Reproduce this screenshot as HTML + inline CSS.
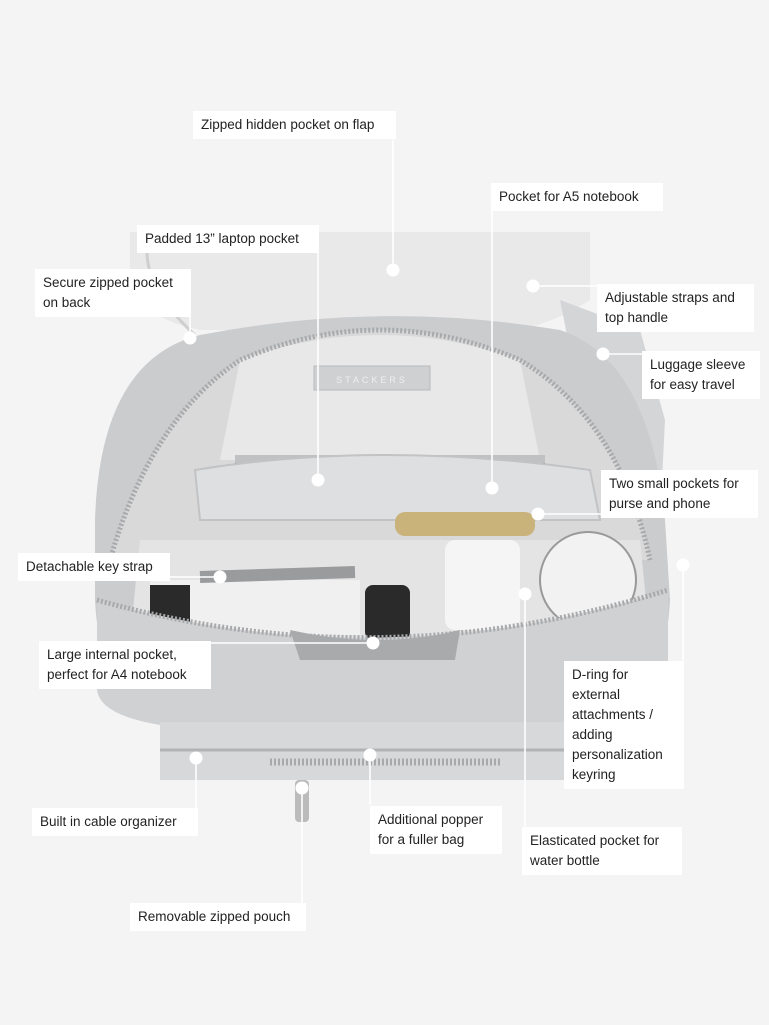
<!DOCTYPE html>
<html><head><meta charset="utf-8"><style>
body{margin:0;width:769px;height:1025px;background:#f4f4f4;position:relative;overflow:hidden;font-family:"Liberation Sans",sans-serif}
svg{position:absolute;left:0;top:0}
.l{position:absolute;background:#fff;color:#222;font-size:13.5px;line-height:20px;padding:4px 8px;box-sizing:border-box}
</style></head><body>
<svg width="769" height="1025">
<!-- flap / back -->
<path d="M130 232 L590 232 L590 300 Q560 320 520 330 L200 330 Q150 320 130 290 Z" fill="#e9e9ea"/>
<path d="M150 232 Q135 280 195 335" stroke="#cfcfd0" stroke-width="3" fill="none"/>
<!-- right luggage sleeve -->
<path d="M560 300 L640 330 L665 420 L660 520 L600 500 Z" fill="#d4d5d7"/>
<!-- main body -->
<path d="M95 520 Q100 360 200 335 Q380 300 560 330 Q650 360 665 520 L670 600 Q665 700 600 720 L160 720 Q100 700 95 600 Z" fill="#cbccce"/>
<!-- interior opening -->
<path d="M110 560 Q150 420 240 360 Q380 300 520 360 Q620 420 650 560 Z" fill="#d9d9da"/>
<path d="M240 360 Q380 310 520 360 L540 460 L220 460 Z" fill="#e8e8e9"/>
<path d="M110 560 Q150 420 240 360 Q380 300 520 360 Q620 420 650 560" stroke="#a8a9ab" stroke-width="5" fill="none" stroke-dasharray="2 2"/>
<rect x="314" y="366" width="116" height="24" fill="#cfd0d2" stroke="#b9babc"/>
<text x="372" y="383" font-size="9" fill="#eee" text-anchor="middle" font-family="Liberation Sans" letter-spacing="3">STACKERS</text>
<!-- tablet -->
<path d="M235 455 L545 455 L545 490 L235 490 Z" fill="#3a3b3d"/>
<rect x="235" y="455" width="310" height="8" fill="#c0c1c3"/>
<path d="M195 470 Q380 440 590 470 L600 520 L200 520 Z" fill="#dedfe0" stroke="#c2c3c5" stroke-width="2"/>
<rect x="395" y="512" width="140" height="24" rx="10" fill="#c9b37a"/>
<!-- lower inner -->
<path d="M140 540 L640 540 L650 640 L130 640 Z" fill="#e4e4e5"/>
<rect x="150" y="580" width="210" height="55" fill="#f0f0f0"/>
<rect x="150" y="585" width="40" height="45" fill="#2a2a2a"/>
<rect x="365" y="585" width="45" height="55" rx="8" fill="#2a2a2a"/>
<rect x="445" y="540" width="75" height="90" rx="10" fill="#f5f5f5"/>
<circle cx="588" cy="580" r="48" fill="#f2f2f2" stroke="#999" stroke-width="2"/>
<path d="M200 577 L355 572" stroke="#9a9b9d" stroke-width="12"/>
<!-- front pocket -->
<path d="M97 600 Q380 680 668 590 L668 690 Q650 720 600 725 L160 725 Q100 715 97 690 Z" fill="#d0d1d3"/>
<path d="M97 600 Q380 680 668 590" stroke="#a8a9ab" stroke-width="5" fill="none" stroke-dasharray="2 2"/>
<path d="M290 630 Q380 650 460 630 L455 660 L300 660 Z" fill="#a9aaac"/>
<!-- bottom pouch -->
<path d="M160 722 L660 722 L660 780 L160 780 Z" fill="#d7d8da"/>
<path d="M160 750 L660 750" stroke="#b2b3b5" stroke-width="3"/>
<path d="M270 762 L500 762" stroke="#a8a9ab" stroke-width="7" stroke-dasharray="2 2"/>
<rect x="295" y="780" width="14" height="42" rx="4" fill="#bbb"/>
<!-- connectors -->
<g stroke="#fff" stroke-width="1.6" fill="none">
<path d="M393 140 V270"/><path d="M492 211 V488"/><path d="M318 253 V480"/>
<path d="M190 315 V338"/><path d="M533 286 H597"/><path d="M603 354 H642"/>
<path d="M538 514 H601"/><path d="M170 577 H220"/><path d="M210 643 H373"/>
<path d="M683 565 V660"/><path d="M196 758 V808"/><path d="M370 755 V805"/>
<path d="M525 594 V826"/><path d="M302 788 V903"/>
</g>
<g fill="#fff">
<circle cx="393" cy="270" r="6.5"/><circle cx="492" cy="488" r="6.5"/><circle cx="318" cy="480" r="6.5"/>
<circle cx="190" cy="338" r="6.5"/><circle cx="533" cy="286" r="6.5"/><circle cx="603" cy="354" r="6.5"/>
<circle cx="538" cy="514" r="6.5"/><circle cx="220" cy="577" r="6.5"/><circle cx="373" cy="643" r="6.5"/>
<circle cx="683" cy="565" r="6.5"/><circle cx="196" cy="758" r="6.5"/><circle cx="370" cy="755" r="6.5"/>
<circle cx="525" cy="594" r="6.5"/><circle cx="302" cy="788" r="6.5"/>
</g>
</svg>
<div class="l" style="left:193px;top:111px;width:203px">Zipped hidden pocket on flap</div>
<div class="l" style="left:491px;top:183px;width:172px">Pocket for A5 notebook</div>
<div class="l" style="left:137px;top:225px;width:182px">Padded 13” laptop pocket</div>
<div class="l" style="left:35px;top:269px;width:156px">Secure zipped pocket<br>on back</div>
<div class="l" style="left:597px;top:284px;width:157px">Adjustable straps and<br>top handle</div>
<div class="l" style="left:642px;top:351px;width:118px">Luggage sleeve<br>for easy travel</div>
<div class="l" style="left:601px;top:470px;width:157px">Two small pockets for<br>purse and phone</div>
<div class="l" style="left:18px;top:553px;width:152px">Detachable key strap</div>
<div class="l" style="left:39px;top:641px;width:172px">Large internal pocket,<br>perfect for A4 notebook</div>
<div class="l" style="left:564px;top:661px;width:120px">D-ring for<br>external<br>attachments /<br>adding<br>personalization<br>keyring</div>
<div class="l" style="left:32px;top:808px;width:166px">Built in cable organizer</div>
<div class="l" style="left:370px;top:806px;width:132px">Additional popper<br>for a fuller bag</div>
<div class="l" style="left:522px;top:827px;width:160px">Elasticated pocket for<br>water bottle</div>
<div class="l" style="left:130px;top:903px;width:176px">Removable zipped pouch</div>
</body></html>
